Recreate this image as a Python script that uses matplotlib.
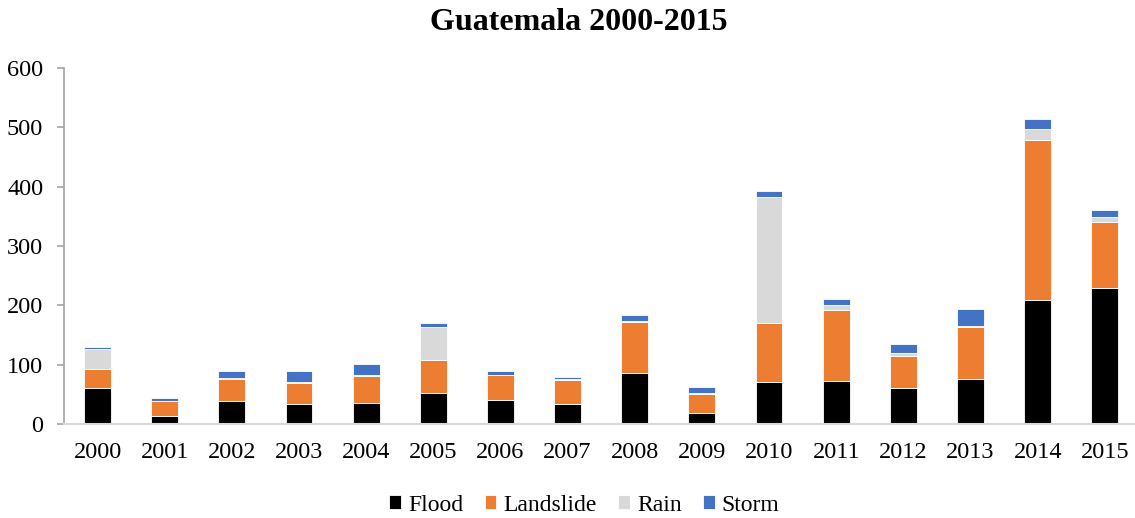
import numpy as np
import matplotlib
matplotlib.use("Agg")
import matplotlib.pyplot as plt

# data
years = ["2000", "2001", "2002", "2003", "2004", "2005", "2006", "2007",
         "2008", "2009", "2010", "2011", "2012", "2013", "2014", "2015"]
flood = [60, 14, 38, 33, 36, 53, 40, 34, 86, 18, 71, 72, 61, 76, 209, 229]
landslide = [33, 24, 38, 36, 45, 55, 42, 41, 86, 33, 99, 120, 53, 88, 270, 112]
rain = [33, 1, 2, 2, 2, 55, 1, 1, 2, 2, 212, 8, 6, 1, 18, 8]
storm = [4, 5, 11, 19, 18, 7, 7, 4, 10, 10, 10, 11, 15, 28, 17, 11]

series = [("Flood", flood, "#000000"),
          ("Landslide", landslide, "#ED7D31"),
          ("Rain", rain, "#D9D9D9"),
          ("Storm", storm, "#4472C4")]

plt.rcParams['font.family'] = ['Liberation Serif', 'DejaVu Serif']

fig = plt.figure(figsize=(11.35, 5.18), dpi=100)
ax = fig.add_axes([64 / 1135, 1 - 424 / 518, (1135 - 64) / 1135, (424 - 68) / 518])

x = np.arange(len(years))
bottom = np.zeros(len(years))
for name, vals, col in series:
    vals = np.array(vals, dtype=float)
    ax.bar(x, vals, width=0.4, bottom=bottom, color=col, label=name,
           edgecolor="white", linewidth=0.6)
    bottom += vals

ax.set_xlim(-0.5, 15.45)
ax.set_ylim(0, 600)
ax.set_yticks(range(0, 601, 100))
ax.set_xticks(x)
ax.set_xticklabels(years)

for s in ["top", "right"]:
    ax.spines[s].set_visible(False)
ax.spines["left"].set_color("#a6a6a6")
ax.spines["bottom"].set_color("#d9d9d9")
ax.spines["left"].set_linewidth(1.2)
ax.spines["bottom"].set_linewidth(1.5)
ax.tick_params(axis="y", length=5, color="#a6a6a6", labelsize=17.5, pad=10, width=1.2)
ax.tick_params(axis="x", length=0, labelsize=17.5, pad=13)

fig.suptitle("Guatemala 2000-2015", fontsize=23, fontweight="bold", x=0.51, y=0.985)

ax.legend(loc="upper center", bbox_to_anchor=(0.486, -0.185), ncol=4, frameon=False,
          fontsize=17, handlelength=0.5, handleheight=0.5, handletextpad=0.3,
          columnspacing=0.9, borderaxespad=0, borderpad=0.2)

fig.savefig("out.png", dpi=100)
